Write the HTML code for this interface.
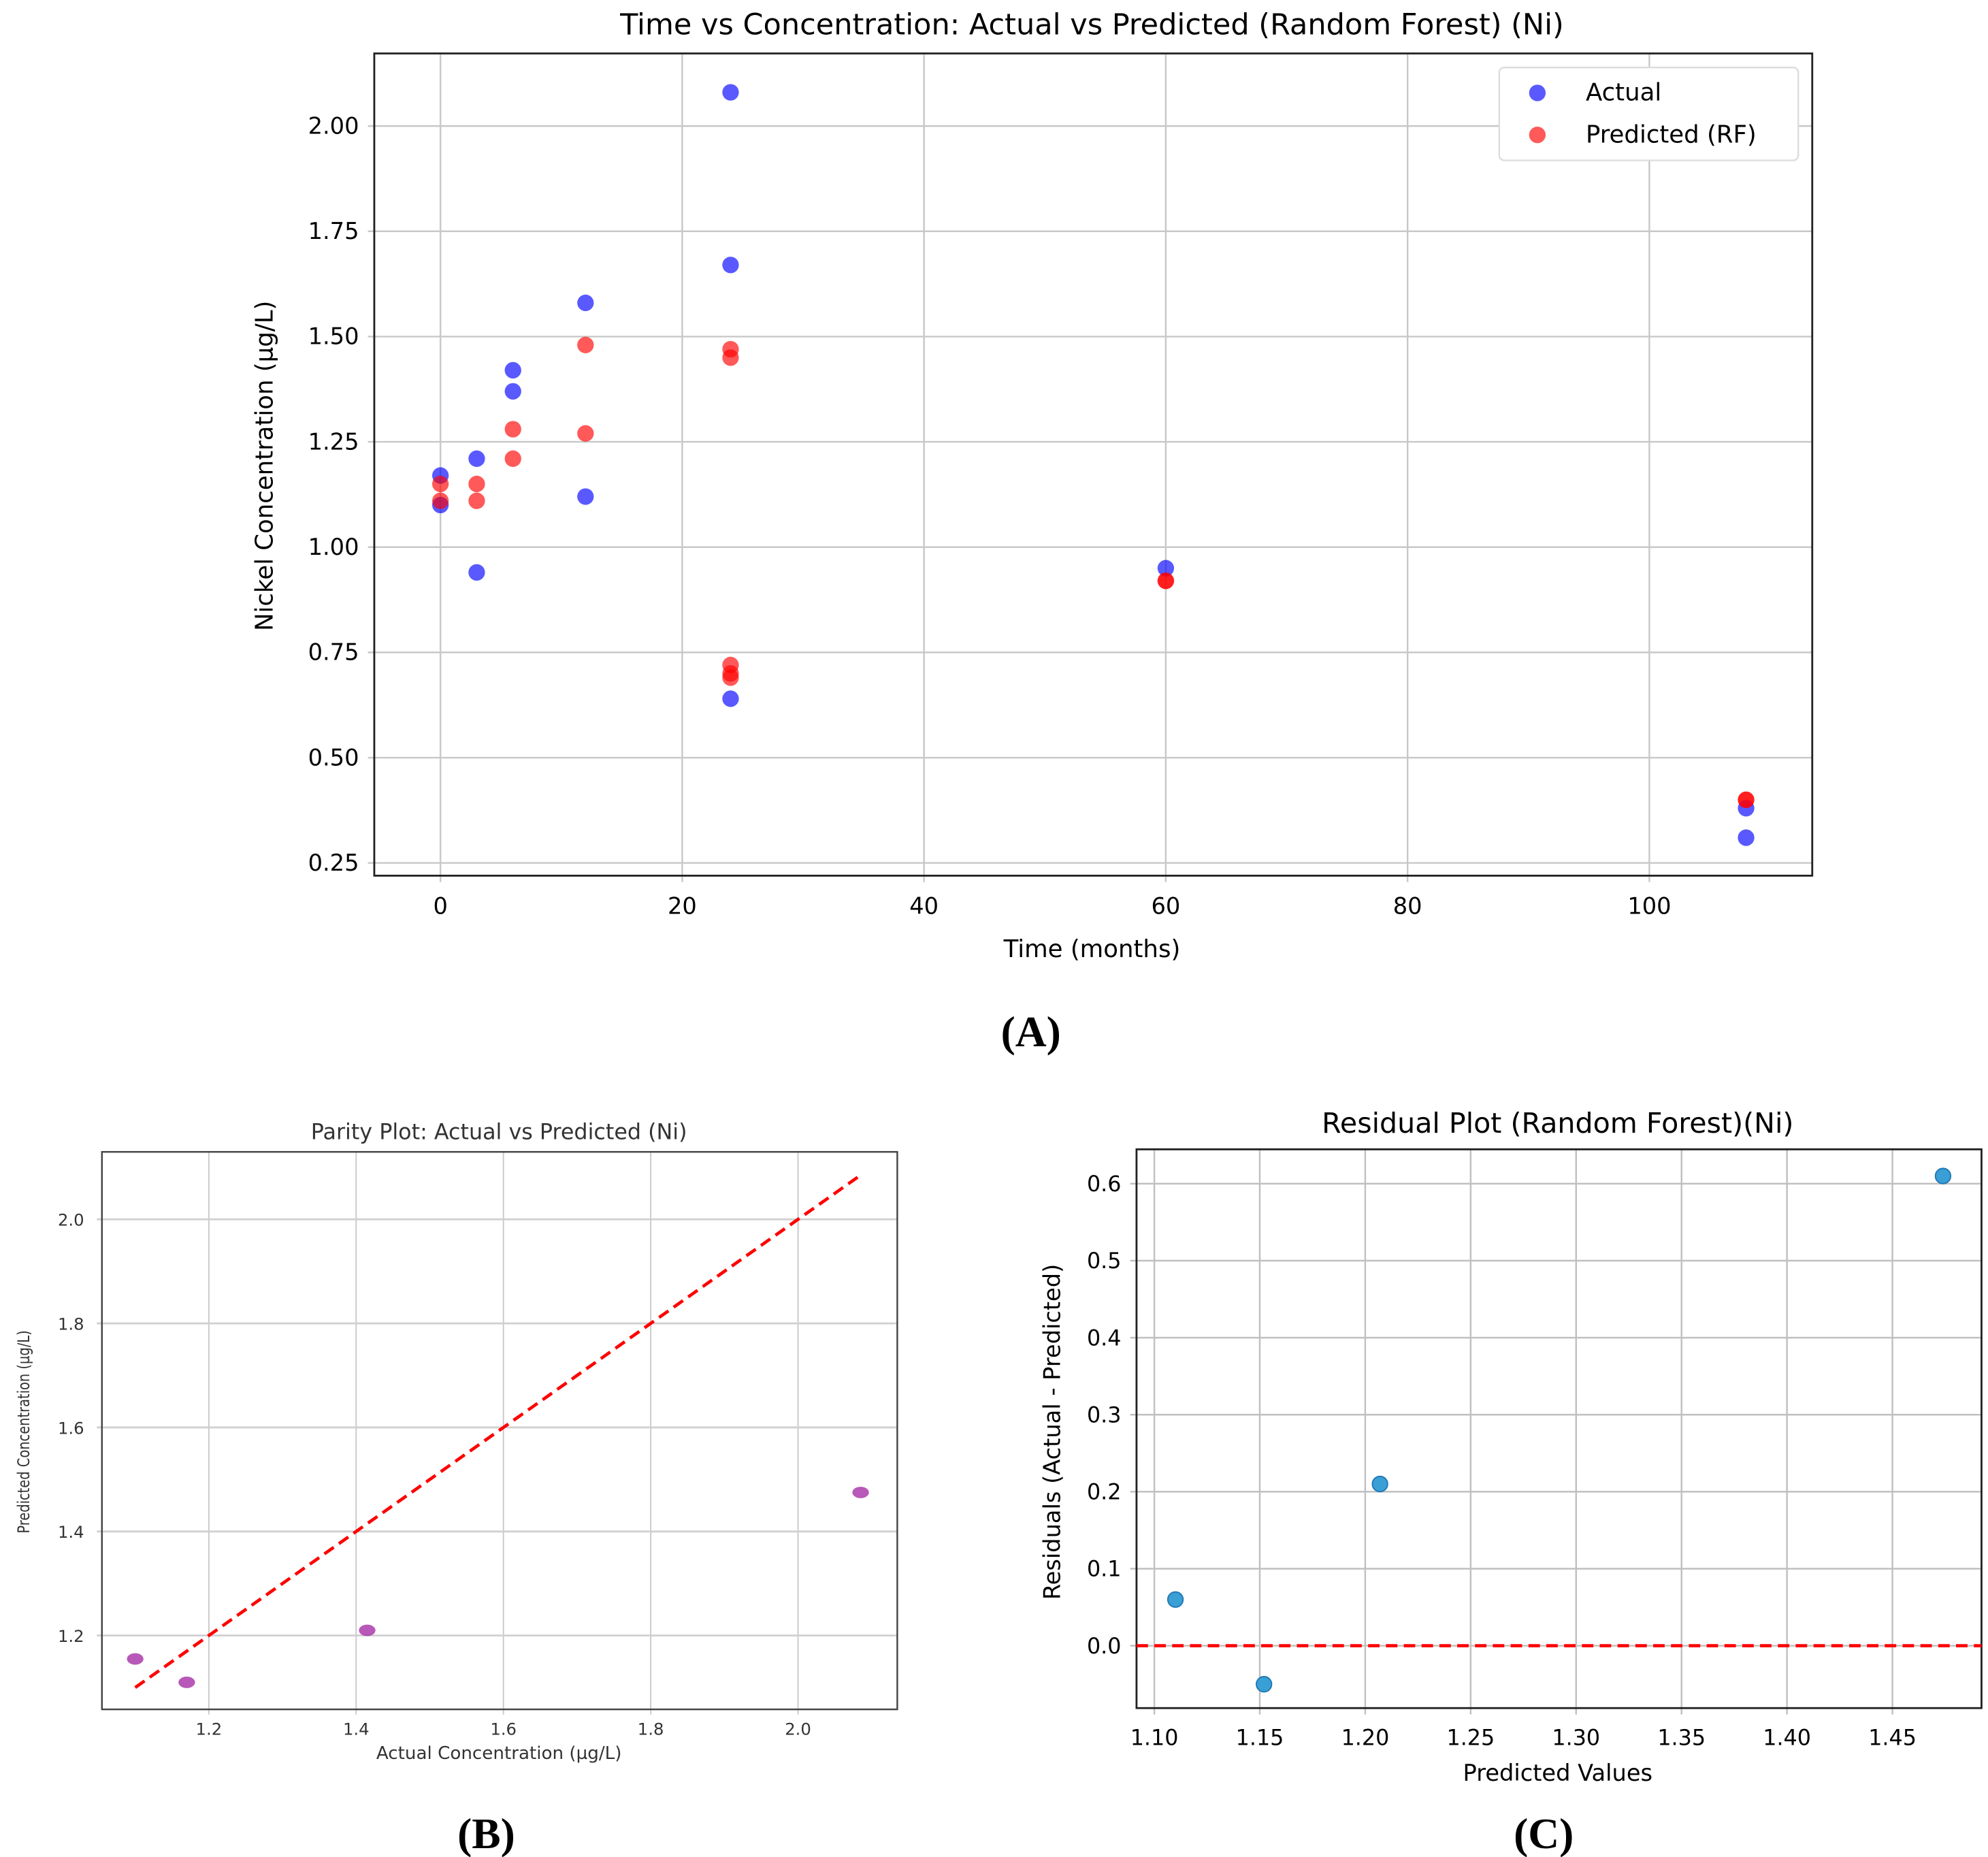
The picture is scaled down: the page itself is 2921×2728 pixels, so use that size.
<!DOCTYPE html>
<html><head><meta charset="utf-8"><style>
html,body{margin:0;padding:0;background:#fff;}
svg{display:block;}
text{font-family:"DejaVu Sans","Liberation Sans",sans-serif;}
</style></head><body>
<svg id="fig" xmlns="http://www.w3.org/2000/svg" width="2921" height="2728" viewBox="0 0 1562 1459">
<rect width="1562" height="1459" fill="#fff"/>
<g id="A"></g>
<g id="B"></g>
<g id="C"></g>
<text x="810" y="822" text-anchor="middle" font-size="34" font-weight="bold" style="font-family:'Liberation Serif',serif">(A)</text>
<text x="382" y="1452" text-anchor="middle" font-size="34" font-weight="bold" style="font-family:'Liberation Serif',serif">(B)</text>
<text x="1213" y="1452" text-anchor="middle" font-size="34" font-weight="bold" style="font-family:'Liberation Serif',serif">(C)</text>
</svg>
<script>
// Panel A data
const aTimes = [0,0,3,3,6,6,12,12,24,24,24,60,108,108];
const aActual = [1.17,1.10,1.21,0.94,1.42,1.37,1.58,1.12,2.08,1.67,0.64,0.95,0.38,0.31];
const pTimes = [0,0,3,3,6,6,12,12,24,24,24,24,24,60,60,108,108];
const pPred = [1.15,1.11,1.15,1.11,1.28,1.21,1.48,1.27,1.47,1.45,0.72,0.70,0.69,0.92,0.92,0.40,0.40];
const aXTicks = [0,20,40,60,80,100];
const aYTicks = [0.25,0.50,0.75,1.00,1.25,1.50,1.75,2.00];
// Panel B data
const bActual = [1.10,1.17,1.415,2.085];
const bPred = [1.155,1.11,1.21,1.475];
const bXTicks = [1.2,1.4,1.6,1.8,2.0];
const bYTicks = [1.2,1.4,1.6,1.8,2.0];
const bLine = [1.10,2.085];
// Panel C data
const cPred = [1.11,1.152,1.207,1.474];
const cResid = [0.06,-0.05,0.21,0.61];
const cXTicks = [1.10,1.15,1.20,1.25,1.30,1.35,1.40,1.45];
const cYTicks = [0.0,0.1,0.2,0.3,0.4,0.5,0.6];

const NS='http://www.w3.org/2000/svg';
function mk(parent,tag,attrs,txt){const e=document.createElementNS(NS,tag);for(const k in attrs)e.setAttribute(k,attrs[k]);if(txt!==undefined)e.textContent=txt;parent.appendChild(e);return e;}

// ---- Panel A ----
(function(){
const g=document.getElementById('A');
const L=294,R=1424,T=42,B=688;
const xs=v=>346+(v-0)*(536-346)/20;
const ys=v=>678-(v-0.25)*(678-99)/1.75;
aXTicks.forEach(v=>{
 const l=mk(g,'line',{x1:xs(v),x2:xs(v),y1:T,y2:B+5,stroke:'#c8c8c8','stroke-width':1.3});
 
 
 const t=mk(g,'text',{x:xs(v),y:B+30,'text-anchor':'middle','font-size':18},String(v));
 
 
});
aYTicks.forEach(v=>{
 const l=mk(g,'line',{x1:L-5,x2:R,y1:ys(v),y2:ys(v),stroke:'#c8c8c8','stroke-width':1.3});
 
 
 const t=mk(g,'text',{x:L-12,y:ys(v)+6,'text-anchor':'end','font-size':18},v.toFixed(2));
 
 
});
const box=mk(g,'rect',{x:L,y:T,width:R-L,height:B-T,fill:'none',stroke:'#222','stroke-width':1.5});


aActual.forEach((v,i)=>{
 const c=mk(g,'circle',{cx:xs(aTimes[i]),cy:ys(v),r:6.5,fill:'#0000ff','fill-opacity':0.65});
 
 
});
pPred.forEach((v,i)=>{
 const c=mk(g,'circle',{cx:xs(pTimes[i]),cy:ys(v),r:6.5,fill:'#ff0000','fill-opacity':0.65});
 
 
});
const tt=mk(g,'text',{x:858,y:27,'text-anchor':'middle','font-size':23},'Time vs Concentration: Actual vs Predicted (Random Forest) (Ni)');


const xl=mk(g,'text',{x:858,y:752,'text-anchor':'middle','font-size':19},'Time (months)');


const yl=mk(g,'text',{x:0,y:0,'text-anchor':'middle','font-size':19,transform:'translate(214,366) rotate(-90)'},'Nickel Concentration (µg/L)');


const lg=mk(g,'g',{});


mk(lg,'rect',{x:1178,y:53,width:235,height:73,rx:4,fill:'#fff',stroke:'#ddd','stroke-width':1.3});
const e1=mk(lg,'circle',{cx:1208,cy:73,r:6.5,fill:'#0000ff','fill-opacity':0.65});


mk(lg,'text',{x:1246,y:79,'font-size':19},'Actual');
const e2=mk(lg,'circle',{cx:1208,cy:106,r:6.5,fill:'#ff0000','fill-opacity':0.65});


mk(lg,'text',{x:1246,y:112,'font-size':19},'Predicted (RF)');
})();

// ---- Panel B ----
(function(){
const g=document.getElementById('B');
const L=80,R=705,T=905,B=1343;
const xs=v=>164+(v-1.2)*(627-164)/0.8;
const ys=v=>1285-(v-1.2)*(1285-958)/0.8;
bXTicks.forEach(v=>{
 const l=mk(g,'line',{x1:xs(v),x2:xs(v),y1:T,y2:B+4,stroke:'#c8c8c8','stroke-width':1});
 
 
 const t=mk(g,'text',{x:xs(v),y:B+20,'text-anchor':'middle','font-size':13,fill:'#333'},v.toFixed(1));
 
 
});
bYTicks.forEach(v=>{
 const l=mk(g,'line',{x1:L-4,x2:R,y1:ys(v),y2:ys(v),stroke:'#d0d0d0','stroke-width':1.5});
 
 
 const t=mk(g,'text',{x:L-14,y:ys(v)+5,'text-anchor':'end','font-size':13,fill:'#333'},v.toFixed(1));
 
 
});
const box=mk(g,'rect',{x:L,y:T,width:R-L,height:B-T,fill:'none',stroke:'#444','stroke-width':1.3});


const dl=mk(g,'line',{x1:xs(bLine[0]),y1:ys(bLine[0]),x2:xs(bLine[1]),y2:ys(bLine[1]),stroke:'#ff0000','stroke-width':2.5,'stroke-dasharray':'9,5'});


bActual.forEach((v,i)=>{
 const c=mk(g,'ellipse',{cx:xs(v),cy:ys(bPred[i]),rx:6.5,ry:4.5,fill:'#a020a0','fill-opacity':0.75});
 
 
});
const tt=mk(g,'text',{x:392,y:895,'text-anchor':'middle','font-size':17,fill:'#333'},'Parity Plot: Actual vs Predicted (Ni)');


const xl=mk(g,'text',{x:392,y:1382,'text-anchor':'middle','font-size':14,fill:'#333'},'Actual Concentration (µg/L)');


const yl=mk(g,'text',{x:0,y:0,'text-anchor':'middle','font-size':13,fill:'#333',transform:'translate(23,1125) rotate(-90) scale(0.8,1)'},'Predicted Concentration (µg/L)');


})();

// ---- Panel C ----
(function(){
const g=document.getElementById('C');
const L=893,R=1557,T=903,B=1342;
const xs=v=>907+(v-1.10)*(1487-907)/0.35;
const ys=v=>1293-v*(1293-930)/0.6;
cXTicks.forEach(v=>{
 const l=mk(g,'line',{x1:xs(v),x2:xs(v),y1:T,y2:B+5,stroke:'#c0c0c0','stroke-width':1.3});
 
 
 const t=mk(g,'text',{x:xs(v),y:B+29,'text-anchor':'middle','font-size':17},v.toFixed(2));
 
 
});
cYTicks.forEach(v=>{
 const l=mk(g,'line',{x1:L-5,x2:R,y1:ys(v),y2:ys(v),stroke:'#c0c0c0','stroke-width':1.3});
 
 
 const t=mk(g,'text',{x:L-12,y:ys(v)+6,'text-anchor':'end','font-size':17},v.toFixed(1));
 
 
});
const box=mk(g,'rect',{x:L,y:T,width:R-L,height:B-T,fill:'none',stroke:'#222','stroke-width':1.5});


const zl=mk(g,'line',{x1:L,x2:R,y1:ys(0),y2:ys(0),stroke:'#ff0000','stroke-width':2.5,'stroke-dasharray':'9,5'});


cPred.forEach((v,i)=>{
 const c=mk(g,'circle',{cx:xs(v),cy:ys(cResid[i]),r:6,fill:'#3a9fd4',stroke:'#1f77b4','stroke-width':1});
 
 
});
const tt=mk(g,'text',{x:1224,y:890,'text-anchor':'middle','font-size':22},'Residual Plot (Random Forest)(Ni)');


const xl=mk(g,'text',{x:1224,y:1399,'text-anchor':'middle','font-size':18},'Predicted Values');


const yl=mk(g,'text',{x:0,y:0,'text-anchor':'middle','font-size':18,transform:'translate(833,1125) rotate(-90)'},'Residuals (Actual - Predicted)');


})();
</script>
</body></html>
